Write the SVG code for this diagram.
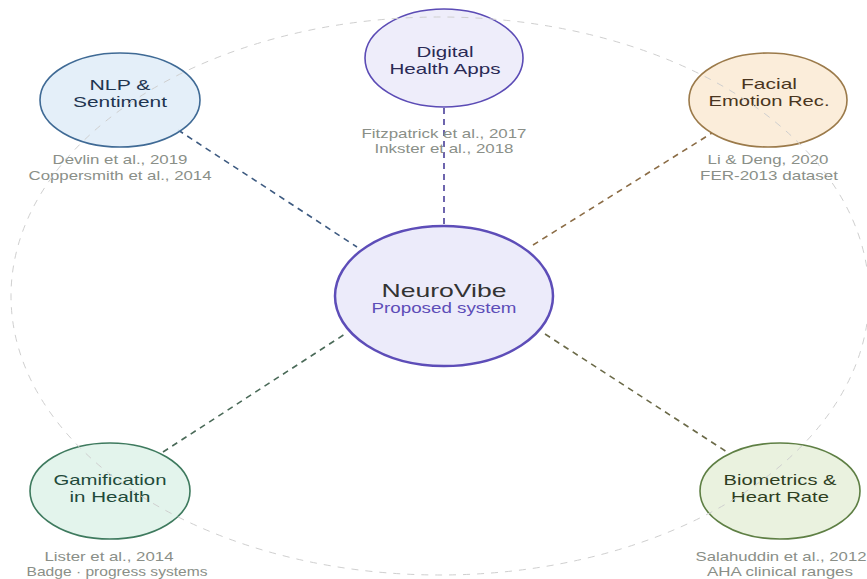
<svg xmlns="http://www.w3.org/2000/svg" width="867" height="579" viewBox="0 0 867 579">
<style>
text{font-family:"Liberation Sans",Arial,sans-serif;text-anchor:middle}
.lbl{font-size:15px}
.cit{font-size:13px;fill:#8a8f88}
.node{stroke-width:1.6;fill-opacity:0.9}
.con{fill:none;stroke-width:1.6;stroke-dasharray:6 5}
.ring{fill:none;stroke:#cfcfcf;stroke-width:1;stroke-dasharray:7 7}
</style>
<rect width="867" height="579" fill="#ffffff"/>
<g id="connectors">
<line class="con" x1="178" y1="130" x2="357" y2="247" stroke="#3d5a80"/>
<line class="con" x1="444" y1="108" x2="444" y2="226" stroke="#4a3f9a"/>
<line class="con" x1="533" y1="245" x2="712" y2="133" stroke="#8b6c45"/>
<line class="con" x1="163" y1="452" x2="345" y2="334" stroke="#4a6a58"/>
<line class="con" x1="545" y1="334" x2="727" y2="452" stroke="#6b6a48"/>
</g>
<g id="node-nlp">
<ellipse class="node" cx="120" cy="100" rx="80" ry="47" fill="#e1edf8" stroke="#3f6a95"/>
<text class="lbl" x="120" y="90" fill="#1f3550" textLength="61" lengthAdjust="spacingAndGlyphs">NLP &amp;</text>
<text class="lbl" x="120" y="107" fill="#1f3550" textLength="94" lengthAdjust="spacingAndGlyphs">Sentiment</text>
<text class="cit" x="120" y="164" textLength="135" lengthAdjust="spacingAndGlyphs">Devlin et al., 2019</text>
<text class="cit" x="120" y="180" textLength="183" lengthAdjust="spacingAndGlyphs">Coppersmith et al., 2014</text>
</g>
<g id="node-digital">
<ellipse class="node" cx="444" cy="58" rx="79" ry="49" fill="#ecebfa" stroke="#5b4bb5"/>
<text class="lbl" x="445" y="57" fill="#2a2a55" textLength="57" lengthAdjust="spacingAndGlyphs">Digital</text>
<text class="lbl" x="445" y="74" fill="#2a2a55" textLength="111" lengthAdjust="spacingAndGlyphs">Health Apps</text>
<text class="cit" x="444" y="138" textLength="165" lengthAdjust="spacingAndGlyphs">Fitzpatrick et al., 2017</text>
<text class="cit" x="444" y="153" textLength="139" lengthAdjust="spacingAndGlyphs">Inkster et al., 2018</text>
</g>
<g id="node-facial">
<ellipse class="node" cx="768" cy="100" rx="79" ry="47" fill="#fbebd6" stroke="#9b7a4a"/>
<text class="lbl" x="769" y="89" fill="#4a3520" textLength="56" lengthAdjust="spacingAndGlyphs">Facial</text>
<text class="lbl" x="769" y="106" fill="#4a3520" textLength="121" lengthAdjust="spacingAndGlyphs">Emotion Rec.</text>
<text class="cit" x="768" y="164" textLength="121" lengthAdjust="spacingAndGlyphs">Li &amp; Deng, 2020</text>
<text class="cit" x="769" y="180" textLength="138" lengthAdjust="spacingAndGlyphs">FER-2013 dataset</text>
</g>
<g id="node-gamification">
<ellipse class="node" cx="110" cy="491" rx="80" ry="48" fill="#e0f3ea" stroke="#3e7a5e"/>
<text class="lbl" x="110" y="485" fill="#1f4a3a" textLength="113" lengthAdjust="spacingAndGlyphs">Gamification</text>
<text class="lbl" x="110" y="502" fill="#1f4a3a" textLength="81" lengthAdjust="spacingAndGlyphs">in Health</text>
<text class="cit" x="109" y="561" textLength="129" lengthAdjust="spacingAndGlyphs">Lister et al., 2014</text>
<text class="cit" x="117" y="576" textLength="181" lengthAdjust="spacingAndGlyphs">Badge · progress systems</text>
</g>
<g id="node-biometrics">
<ellipse class="node" cx="780" cy="491" rx="80" ry="48" fill="#e8f1dc" stroke="#5e7f44"/>
<text class="lbl" x="780" y="485" fill="#2f3f1f" textLength="113" lengthAdjust="spacingAndGlyphs">Biometrics &amp;</text>
<text class="lbl" x="780" y="502" fill="#2f3f1f" textLength="98" lengthAdjust="spacingAndGlyphs">Heart Rate</text>
<text class="cit" x="781" y="561" textLength="171" lengthAdjust="spacingAndGlyphs">Salahuddin et al., 2012</text>
<text class="cit" x="780" y="576" textLength="146" lengthAdjust="spacingAndGlyphs">AHA clinical ranges</text>
</g>
<g id="node-center">
<ellipse cx="444" cy="296" rx="109" ry="70" fill="#ecebfa" stroke="#5d4db8" stroke-width="2.5"/>
<text x="444" y="297" font-size="19" fill="#333333" textLength="125" lengthAdjust="spacingAndGlyphs">NeuroVibe</text>
<text x="444" y="313" font-size="14" fill="#5d4db8" textLength="145" lengthAdjust="spacingAndGlyphs">Proposed system</text>
</g>
<ellipse class="ring" cx="440" cy="296" rx="429" ry="279"/>
</svg>
